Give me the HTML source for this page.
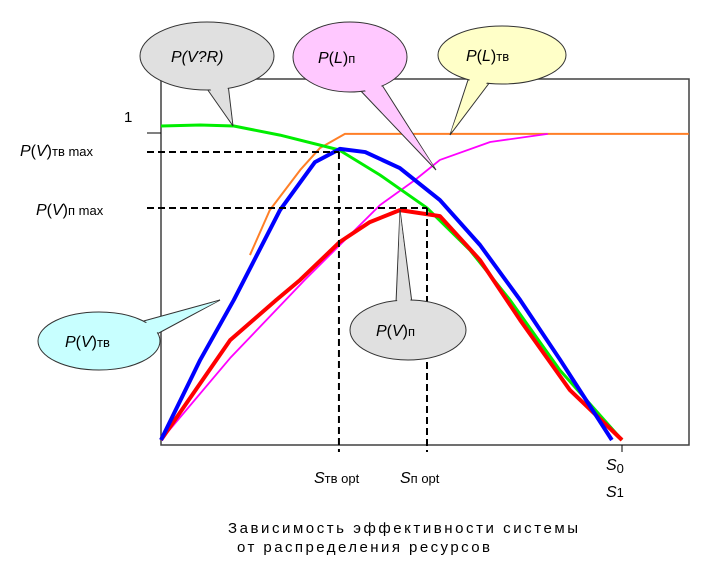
<!DOCTYPE html>
<html><head><meta charset="utf-8"><style>
html,body{margin:0;padding:0;background:#fff}
svg{display:block}
text{font-family:"Liberation Sans",sans-serif;fill:#000}
.it{font-style:italic}
</style></head><body>
<svg id="chart" width="726" height="578" viewBox="0 0 726 578">
<rect x="161" y="79" width="528" height="366" fill="#fff" stroke="#404040" stroke-width="1.5"/>
<g id="curves"></g>
<g id="guides"></g>
<text x="124" y="122" font-size="15">1</text>
<line x1="147" y1="133" x2="161" y2="133" stroke="#000"/>
<text x="20" y="156" font-size="16"><tspan class="it">P</tspan>(<tspan class="it">V</tspan>)<tspan font-size="13">тв max</tspan></text>
<text x="36" y="215" font-size="16"><tspan class="it">P</tspan>(<tspan class="it">V</tspan>)<tspan font-size="13">п max</tspan></text>
<text x="314" y="483" font-size="16"><tspan class="it">S</tspan><tspan font-size="13">тв  opt</tspan></text>
<text x="400" y="483" font-size="16"><tspan class="it">S</tspan><tspan font-size="13">п opt</tspan></text>
<text x="606" y="470" font-size="16"><tspan class="it">S</tspan><tspan font-size="13" dy="3">0</tspan></text>
<text x="606" y="497" font-size="16"><tspan class="it">S</tspan><tspan font-size="13">1</tspan></text>
<line x1="622" y1="445" x2="622" y2="452" stroke="#000"/>
<text x="228" y="533" font-size="15" textLength="350">Зависимость эффективности  системы</text>
<text x="237" y="552" font-size="15" textLength="253">от распределения ресурсов</text>
<g>
<path d="M205,86 L233,126 L228,84 Z" fill="#e0e0e0" stroke="#333"/>
<ellipse cx="207" cy="56" rx="67" ry="34" fill="#e0e0e0" stroke="#333"/>
<path d="M207,84 L232,123 L227,83" fill="#e0e0e0" stroke="none"/>
<text x="171" y="62" font-size="16" class="it">P(V?R)</text></g>
<g>
<path d="M358,88 L436,170 L382,85 Z" fill="#ffc8ff" stroke="#333"/>
<ellipse cx="350" cy="57" rx="57" ry="35" fill="#ffc8ff" stroke="#333"/>
<path d="M361,86 L434,167 L380,84" fill="#ffc8ff" stroke="none"/>
<text x="318" y="63" font-size="16"><tspan class="it">P</tspan>(<tspan class="it">L</tspan>)<tspan font-size="13">п</tspan></text></g>
<g>
<path d="M468,80 L450,135 L493,78 Z" fill="#ffffc8" stroke="#333"/>
<ellipse cx="502" cy="55" rx="64" ry="29" fill="#ffffc8" stroke="#333"/>
<path d="M470,79 L451,132 L491,77" fill="#ffffc8" stroke="none"/>
<text x="466" y="61" font-size="16"><tspan class="it">P</tspan>(<tspan class="it">L</tspan>)<tspan font-size="13">тв</tspan></text></g>
<g>
<path d="M140,322 L220,300 L157,334 Z" fill="#c8ffff" stroke="#333"/>
<ellipse cx="99" cy="341" rx="61" ry="29" fill="#c8ffff" stroke="#333"/>
<path d="M142,324 L218,301 L156,333" fill="#c8ffff" stroke="none"/>
<text x="65" y="347" font-size="16"><tspan class="it">P</tspan>(<tspan class="it">V</tspan>)<tspan font-size="13">тв</tspan></text></g>
<g>
<path d="M396,303 L400,210 L412,303 Z" fill="#e0e0e0" stroke="#333"/>
<ellipse cx="408" cy="330" rx="58" ry="30" fill="#e0e0e0" stroke="#333"/>
<path d="M397,305 L400,212 L411,305" fill="#e0e0e0" stroke="none"/>
<text x="376" y="336" font-size="16"><tspan class="it">P</tspan>(<tspan class="it">V</tspan>)<tspan font-size="13">п</tspan></text></g>
</svg>
<script>
const greenS=[0,8.5,15.8,25.8,38.6,47.5,57.7,67,75.7,86.5,100];
const greenP=[1.0,1.003,1.0,0.971,0.924,0.844,0.739,0.605,0.446,0.223,0];
const blueS=[0,8.5,15.8,25.8,33.4,38.8,44.3,51.8,60.5,69.2,77.9,86.6,97.8];
const blueP=[0,0.255,0.446,0.732,0.885,0.927,0.917,0.866,0.764,0.621,0.446,0.255,0];
const redS=[0,15,25,30.2,38.8,45.3,51.8,60.5,69.2,77.9,88.7,100];
const redP=[0,0.318,0.446,0.51,0.631,0.694,0.732,0.713,0.573,0.382,0.159,0];
const magentaS=[0,15,31.2,38.8,47.5,55.1,60.5,71.4,83.9];
const magentaP=[0,0.261,0.51,0.621,0.748,0.828,0.892,0.949,0.975];
const orangeS=[19.3,23.6,30.2,34.5,39.9,114.5];
const orangeP=[0.589,0.732,0.86,0.93,0.975,0.975];
const optTvS=38.6, optTvP=0.917;
const optPS=57.7, optPP=0.739;
function xs(s){return 161+s*4.61;}
function ys(p){return 440-p*314;}
const NS="http://www.w3.org/2000/svg";
const g=document.getElementById('curves');
function line(S,P,color,w,name){
  const el=document.createElementNS(NS,'polyline');
  el.setAttribute('points',S.map((s,i)=>xs(s)+','+ys(P[i])).join(' '));
  el.setAttribute('fill','none');el.setAttribute('stroke',color);
  el.setAttribute('stroke-width',w);el.setAttribute('stroke-linejoin','round');
  
  
  g.appendChild(el);
}
line(orangeS,orangeP,'#ff7f27',2,'series-pl-tv');
line(magentaS,magentaP,'#ff00ff',1.8,'series-pl-p');
line(greenS,greenP,'#00ee00',3,'series-pv-r');
line(redS,redP,'#ff0000',4,'series-pv-p');
line(blueS,blueP,'#0000ff',4,'series-pv-tv');
const gg=document.getElementById('guides');
function dash(x1,y1,x2,y2,name){
  const el=document.createElementNS(NS,'line');
  el.setAttribute('x1',x1);el.setAttribute('y1',y1);el.setAttribute('x2',x2);el.setAttribute('y2',y2);
  el.setAttribute('stroke','#000');el.setAttribute('stroke-width',2);el.setAttribute('stroke-dasharray','7,4');
  
  
  gg.appendChild(el);
}
dash(147,ys(optTvP),xs(optTvS),ys(optTvP),'guide-h-tv');
dash(xs(optTvS),ys(optTvP),xs(optTvS),452,'guide-v-tv');
dash(147,ys(optPP),xs(optPS),ys(optPP),'guide-h-p');
dash(xs(optPS),ys(optPP),xs(optPS),452,'guide-v-p');
</script>
</body></html>
